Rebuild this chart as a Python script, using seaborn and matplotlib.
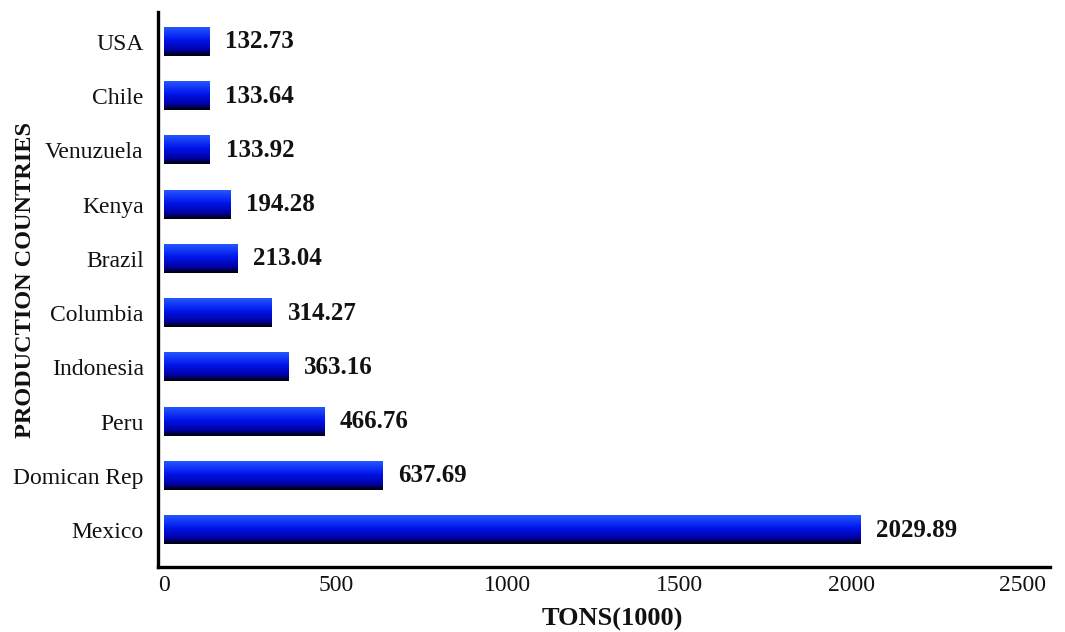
import numpy as np
import pandas as pd
import matplotlib
matplotlib.use("Agg")
import matplotlib.pyplot as plt
from matplotlib.colors import LinearSegmentedColormap
import seaborn as sns

countries = ["USA", "Chile", "Venuzuela", "Kenya", "Brazil", "Columbia",
             "Indonesia", "Peru", "Domican Rep", "Mexico"]
tons = [132.73, 133.64, 133.92, 194.28, 213.04, 314.27, 363.16, 466.76,
        637.69, 2029.89]
x_ticks = [0, 500, 1000, 1500, 2000, 2500]

df = pd.DataFrame({"country": countries, "tons": tons})

sns.set_theme(style="white")
plt.rcParams["font.family"] = ["Liberation Serif", "DejaVu Serif"]

fig = plt.figure(figsize=(10.65, 6.32), dpi=100)
ax = fig.add_axes([0.148, 0.103, 0.838, 0.878])

sns.barplot(data=df, x="tons", y="country", orient="h", ax=ax,
            width=0.52, color="#1030f0", linewidth=0)

# vertical blue-to-black shading for every bar
shade = LinearSegmentedColormap.from_list(
    "bar_shade",
    [(0.0, (0.14, 0.34, 1.0)), (0.45, (0.0, 0.08, 0.92)),
     (0.82, (0.0, 0.0, 0.62)), (0.92, (0.0, 0.0, 0.25)), (1.0, (0.0, 0.0, 0.0))])
grad = np.linspace(0, 1, 64).reshape(-1, 1)
for patch in ax.patches:
    x0, y0 = patch.get_x(), patch.get_y()
    w, h = patch.get_width(), patch.get_height()
    ax.imshow(grad, cmap=shade, aspect="auto", origin="lower",
              extent=[x0, x0 + w, y0, y0 + h], zorder=2, interpolation="bilinear")
    patch.set_facecolor("none")

for i, v in enumerate(tons):
    ax.text(v + 44, i, f"{v:.2f}", va="center", ha="left",
            fontsize=18, fontweight="bold", color="#111111")

ax.set_xlim(-20, 2580)
ax.set_ylim(9.68, -0.55)
ax.set_xticks(x_ticks)
ax.set_xticklabels([str(t) for t in x_ticks])

for side in ["top", "right"]:
    ax.spines[side].set_visible(False)
for side in ["left", "bottom"]:
    ax.spines[side].set_color("black")
    ax.spines[side].set_linewidth(2.4)

ax.tick_params(axis="both", length=0, labelsize=17, colors="#111111")
ax.tick_params(axis="x", pad=6)
ax.tick_params(axis="y", pad=10)

ax.set_xlabel("TONS(1000)", fontsize=19, fontweight="bold", va="center",
              color="#111111")
ax.xaxis.set_label_coords(0.509, -0.0955)
ax.set_ylabel("PRODUCTION COUNTRIES", fontsize=17.5, fontweight="bold",
              va="center", color="#111111")
ax.yaxis.set_label_coords(-0.148, 0.517)

fig.savefig("out.png", dpi=100)
